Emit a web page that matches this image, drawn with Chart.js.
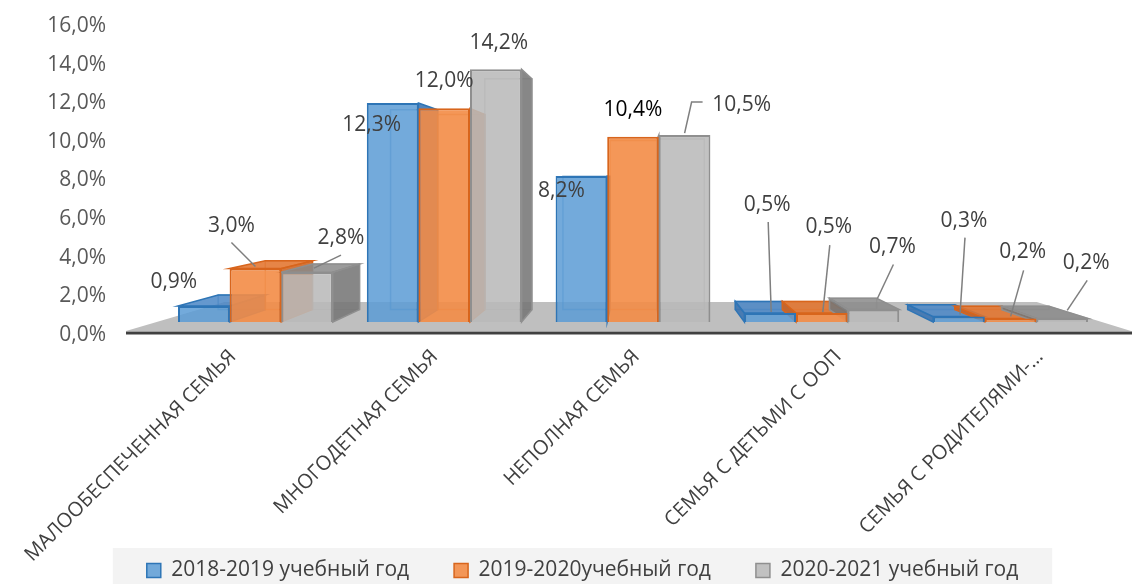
<!DOCTYPE html>
<html lang="ru">
<head>
<meta charset="utf-8">
<title>Категории семей по учебным годам</title>
<script src="https://cdn.jsdelivr.net/npm/chart.js@4.4.1/dist/chart.umd.min.js"></script>
<style>
    html, body { margin: 0; padding: 0; background: #ffffff; }
    #wrap { width: 1132px; height: 584px; position: relative; }
</style>
</head>
<body>
<div id="wrap"><canvas id="familyChart"></canvas></div>
<script>
// Data
const categories = ['МАЛООБЕСПЕЧЕННАЯ СЕМЬЯ', 'МНОГОДЕТНАЯ СЕМЬЯ', 'НЕПОЛНАЯ СЕМЬЯ', 'СЕМЬЯ С ДЕТЬМИ С ООП', 'СЕМЬЯ С РОДИТЕЛЯМИ-…'];
const seriesNames = ['2018-2019 учебный год', '2019-2020учебный год', '2020-2021 учебный год'];
const values2018 = [0.9, 12.3, 8.2, 0.5, 0.3];
const values2019 = [3.0, 12.0, 10.4, 0.5, 0.2];
const values2020 = [2.8, 14.2, 10.5, 0.7, 0.2];
const yTickMin = 0;
const yTickMax = 16;
const yTickStep = 2;

// Colours: front face, edge, side face, top face
const frontColors = ['rgba(91,155,213,0.85)', 'rgba(243,140,70,0.9)', 'rgba(186,186,186,0.88)'];
const edgeColors = ['#2e75b6', '#d8651c', '#8f8f8f'];
const sideColors = ['rgba(52,110,175,0.85)', 'rgba(205,98,32,0.88)', 'rgba(118,118,118,0.88)'];
const topColors = ['rgba(74,134,198,0.85)', 'rgba(226,116,46,0.88)', 'rgba(138,138,138,0.85)'];
const labelColors = [['#404040', '#404040', '#404040', '#404040', '#404040'],
                     ['#404040', '#404040', '#000000', '#404040', '#404040'],
                     ['#404040', '#404040', '#404040', '#404040', '#404040']];

// Label placement relative to the top of the front face
const labelShift = [
    [[-30, -24], [-21, 22], [-20, 15], [-3, -108], [5, -96]],
    [[-24, -43], [0, -27], [0, -27], [7, -86], [12, -66]],
    [[34, -34], [3, -26], [57, -30], [19, -62], [24, -55]]
];
// Leader lines: every point but the last is relative to the label, the last to the bar top
const leaders = [
    [null, null, null, [[1, 17], [1, -1]], [[1, 17], [1, -2]]],
    [[[0, 17], [0, -2]], null, null, [[1, 18], [1, -1]], [[1, 18], [0, -2]]],
    [[[0, 17], [7, -4]], null, [[-39, -3], [-50, -3], [0, -2]], [[1, 17], [4, -11]], [[1, 17], [5, -8]]]
];

const FONT = '"Open Sans", "Noto Sans", sans-serif';
// Perspective: back faces shrink towards a vanishing point
const VP_DX = 7;          // from the centre of the chart area
const VP_TOP = 156;       // below the top of the chart area
const BAR_DEPTH = 0.087;
const FLOOR_DEPTH = 0.192;

function fmtPct(v) {
    return v.toFixed(1).replace('.', ',') + '%';
}

function toBack(x, y, vp, k) {
    return [x + (vp[0] - x) * k, y + (vp[1] - y) * k];
}

function poly(ctx, pts) {
    ctx.beginPath();
    pts.forEach((p, i) => i ? ctx.lineTo(p[0], p[1]) : ctx.moveTo(p[0], p[1]));
    ctx.closePath();
}

const depthPlugin = {
    id: 'depth3d',
    afterLayout(chart) {
        // category labels may run down to the legend
        chart.scales.xl.bottom = chart.height;
        const lg = chart.legend;
        lg.left += 30;
        lg.right += 30;
        lg.top += 7;
        lg.bottom += 7;
    },
    beforeDraw(chart) {
        const {ctx} = chart;
        const lg = chart.legend;
        if (!lg || !lg.legendHitBoxes.length) return;
        const first = lg.legendHitBoxes[0];
        const last = lg.legendHitBoxes[lg.legendHitBoxes.length - 1];
        const top = lg.top + 33;
        ctx.save();
        ctx.fillStyle = '#f3f3f3';
        ctx.fillRect(first.left - 34, top, last.left + last.width - first.left + 68, chart.height - top);
        ctx.restore();
    },
    beforeDatasetsDraw(chart) {
        const {ctx, chartArea} = chart;
        const base = chart.scales.yb.getPixelForValue(0);
        const vp = [(chartArea.left + chartArea.right) / 2 + VP_DX, chartArea.top + VP_TOP];
        ctx.save();

        // floor
        const fy = base + 9;
        const fl = chartArea.left - 35, fr = chartArea.right + 26;
        ctx.fillStyle = '#bfbfbf';
        poly(ctx, [[fl, fy], [fr, fy], toBack(fr, fy, vp, FLOOR_DEPTH), toBack(fl, fy, vp, FLOOR_DEPTH)]);
        ctx.fill();

        // hidden edges and the visible side / top faces
        chart.data.datasets.forEach((ds, di) => {
            const meta = chart.getDatasetMeta(di);
            meta.data.forEach(bar => {
                const L = bar.x - bar.width / 2, R = bar.x + bar.width / 2;
                const T = bar.y, B = bar.base;
                const bLT = toBack(L, T, vp, BAR_DEPTH), bRT = toBack(R, T, vp, BAR_DEPTH);
                const bLB = toBack(L, B, vp, BAR_DEPTH), bRB = toBack(R, B, vp, BAR_DEPTH);
                ctx.lineWidth = 1.5;
                ctx.strokeStyle = edgeColors[di];

                ctx.globalAlpha = 0.5;
                poly(ctx, [bLT, bRT, bRB, bLB]);
                ctx.stroke();
                ctx.globalAlpha = 1;

                ctx.fillStyle = sideColors[di];
                if (R < vp[0]) {
                    poly(ctx, [[R, T], bRT, bRB, [R, B]]);
                    ctx.fill();
                    ctx.stroke();
                }
                if (L > vp[0]) {
                    poly(ctx, [[L, T], bLT, bLB, [L, B]]);
                    ctx.fill();
                    ctx.stroke();
                }
                if (T > vp[1]) {
                    ctx.fillStyle = topColors[di];
                    poly(ctx, [[L, T], [R, T], bRT, bLT]);
                    ctx.fill();
                    ctx.stroke();
                }
            });
        });
        ctx.restore();
    },
    afterDatasetsDraw(chart) {
        const {ctx, chartArea} = chart;
        ctx.save();
        // axis line
        ctx.strokeStyle = '#404040';
        ctx.lineWidth = 3;
        ctx.beginPath();
        ctx.moveTo(chartArea.left - 35, chartArea.bottom);
        ctx.lineTo(chart.width, chartArea.bottom);
        ctx.stroke();

        // value labels with leader lines
        ctx.font = '21px ' + FONT;
        ctx.textAlign = 'center';
        ctx.textBaseline = 'middle';
        chart.data.datasets.forEach((ds, di) => {
            const meta = chart.getDatasetMeta(di);
            meta.data.forEach((bar, i) => {
                const lx = bar.x + labelShift[di][i][0];
                const ly = bar.y + labelShift[di][i][1];
                const lead = leaders[di][i];
                if (lead) {
                    ctx.strokeStyle = '#7f7f7f';
                    ctx.lineWidth = 1.5;
                    ctx.beginPath();
                    lead.forEach((p, k) => {
                        const px = k === lead.length - 1 ? bar.x + p[0] : lx + p[0];
                        const py = k === lead.length - 1 ? bar.y + p[1] : ly + p[1];
                        if (k === 0) ctx.moveTo(px, py); else ctx.lineTo(px, py);
                    });
                    ctx.stroke();
                }
                ctx.fillStyle = labelColors[di][i];
                ctx.fillText(fmtPct(ds.data[i]), lx, ly);
            });
        });
        ctx.restore();
    }
};

const seriesValues = [values2018, values2019, values2020];
const datasets = seriesNames.map((name, i) => ({
    label: name,
    data: seriesValues[i],
    backgroundColor: frontColors[i],
    borderColor: edgeColors[i],
    borderWidth: 2,
    xAxisID: 'x',
    yAxisID: 'yb',
    categoryPercentage: 0.82,
    barPercentage: 1.0
}));

const chart = new Chart(document.getElementById('familyChart'), {
    type: 'bar',
    data: { labels: categories, datasets: datasets },
    options: {
        responsive: true,
        maintainAspectRatio: false,
        animation: false,
        layout: { padding: { top: 24, right: 27, left: 0, bottom: 0 } },
        scales: {
            x: { type: 'category', display: false, offset: true },
            // category names sit along the front edge of the floor
            xl: {
                type: 'linear',
                position: 'bottom',
                offset: false,
                min: -0.357,
                max: 4.322,
                grid: { display: false },
                border: { display: false },
                afterBuildTicks: s => { s.ticks = categories.map((c, i) => ({ value: i })); },
                afterFit: s => { s.height = 175; },
                ticks: {
                    autoSkip: false,
                    minRotation: 45,
                    maxRotation: 45,
                    padding: 4,
                    color: '#404040',
                    font: { family: FONT, size: 20 },
                    callback: v => categories[v]
                }
            },
            y: {
                position: 'left',
                weight: 2,
                min: yTickMin,
                max: yTickMax,
                grid: { display: false },
                border: { display: false },
                afterFit: s => { s.width = 118; },
                ticks: {
                    stepSize: yTickStep,
                    padding: 4,
                    labelOffset: 2,
                    color: '#595959',
                    font: { family: FONT, size: 21 },
                    callback: v => fmtPct(v)
                }
            },
            yb: {
                position: 'left',
                weight: 1,
                min: -0.62,
                max: 16.74,
                grid: { display: false },
                border: { display: false },
                ticks: { display: false },
                afterFit: s => { s.width = 43; }
            }
        },
        plugins: {
            tooltip: { enabled: false },
            legend: {
                position: 'bottom',
                labels: {
                    boxWidth: 14,
                    boxHeight: 14,
                    padding: 45,
                    color: '#404040',
                    font: { family: FONT, size: 21 },
                    generateLabels: c => c.data.datasets.map((ds, i) => ({
                        text: ds.label,
                        fillStyle: frontColors[i],
                        strokeStyle: edgeColors[i],
                        lineWidth: 1.5,
                        datasetIndex: i,
                        fontColor: '#404040'
                    }))
                }
            }
        }
    },
    plugins: [depthPlugin]
});
</script>
</body>
</html>
